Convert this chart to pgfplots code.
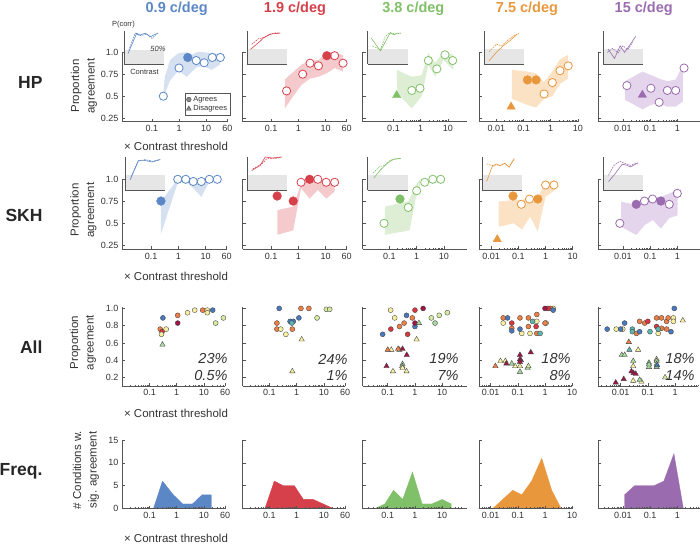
\documentclass[border=0pt]{standalone}
\usepackage{fontspec}
\setmainfont{Liberation Sans}
\usepackage{pgfplots}
\pgfplotsset{compat=1.18}

\definecolor{cB}{HTML}{5B87C6}
\definecolor{cR}{HTML}{D6404A}
\definecolor{cG}{HTML}{80C068}
\definecolor{cO}{HTML}{E9973D}
\definecolor{cP}{HTML}{9A6BAE}
\definecolor{bB}{HTML}{D5E0F1}
\definecolor{bR}{HTML}{F4CACC}
\definecolor{bG}{HTML}{DDEED4}
\definecolor{bO}{HTML}{FBE2C5}
\definecolor{bP}{HTML}{E5D5EC}
\definecolor{axc}{HTML}{555555}
\definecolor{txc}{HTML}{333333}
\definecolor{insg}{HTML}{E6E6E6}
\definecolor{sDR}{HTML}{9E1642}
\definecolor{sR}{HTML}{D8363F}
\definecolor{sO}{HTML}{EE7E45}
\definecolor{sY}{HTML}{F8EFA0}
\definecolor{sYG}{HTML}{D6EBA2}
\definecolor{sG}{HTML}{A6D8A0}
\definecolor{sT}{HTML}{5CB6AE}
\definecolor{sBl}{HTML}{4A78BC}

\pgfplotsset{
  kbase/.style={scale only axis, clip=false, anchor=south west,
    axis x line*=bottom, axis y line*=left, tick pos=left,
    axis line style={draw=axc, line width=0.6pt, -},
    tick style={draw=axc, line width=0.6pt},
    tick align=inside, major tick length=3pt, minor tick length=1.5pt,
    ticklabel style={font=\fontsize{9}{10}\selectfont, text=txc},
    yticklabels={,,,,,,}},
  kmt/.style={minor xtick={0.002,0.003,0.004,0.005,0.006,0.007,0.008,0.009,0.02,0.03,0.04,0.05,0.06,0.07,0.08,0.09,0.2,0.3,0.4,0.5,0.6,0.7,0.8,0.9,2,3,4,5,6,7,8,9,20,30,40,50}},
  krA/.style={kbase, height=69.5pt, ymin=0.21, ymax=1.0, ytick={0.25,0.5,0.75,1}},
  krB/.style={kbase, height=70pt, ymin=0.205, ymax=1.0, ytick={0.25,0.5,0.75,1}},
  krC/.style={kbase, kmt, height=79.3pt, ymin=0.1, ymax=1.02, ytick={0.2,0.4,0.6,0.8,1}},
  krD/.style={kbase, kmt, height=68.5pt, ymin=0, ymax=15, ytick={0,5,10,15}, axis on top},
  kxa/.style={xtick={0.1,1,10,60}, xticklabels={0.1,1,10,60}},
  kxb/.style={xtick={0.1,1,10}, xticklabels={0.1,1,10}},
  kxc/.style={xtick={0.01,0.1,1,10}, xticklabels={0.01,0.1,1,10}},
  kxd/.style={xtick={0.01,0.1,1}, xticklabels={0.01,0.1,1}},
  kop/.style={only marks, mark=*, mark size=4.1pt, mark options={fill=white, draw=#1, line width=0.8pt}, forget plot},
  kfp/.style={only marks, mark=*, mark size=4.4pt, mark options={fill=#1, draw=#1, line width=0.3pt}, forget plot},
  ktp/.style={only marks, mark=triangle*, mark size=4.8pt, mark options={fill=#1, draw=#1, line width=0.3pt}, forget plot},
  kband/.style={fill=#1, draw=none, forget plot},
  ksc/.style={only marks, mark=*, mark size=2.5pt, mark options={fill=#1, draw=black!75, line width=0.35pt}, forget plot},
  kst/.style={only marks, mark=triangle*, mark size=3.1pt, mark options={fill=#1, draw=black!75, line width=0.35pt}, forget plot},
  kfr/.style={fill=#1, draw=#1, line width=0.3pt, forget plot},
  kins/.style={scale only axis, anchor=south west, width=40pt, height=32.5pt,
    xmin=0, xmax=1, ymin=0, ymax=1, axis x line*=bottom, axis y line*=left,
    axis line style={draw=axc, line width=0.6pt, -}, xtick=\empty, ytick=\empty,
    clip=false, axis on top},
  kig/.style={fill=insg, draw=none, forget plot},
  kis/.style={draw=#1, line width=0.6pt, forget plot},
  kid/.style={draw=#1, line width=0.6pt, dash pattern=on 1.6pt off 1pt, forget plot},
}

\begin{document}
\begin{tikzpicture}
\useasboundingbox (0,0) rectangle (700pt,547pt);

% ---------------- titles ----------------
\begin{scope}[every node/.style={font=\fontsize{14.5}{16}\selectfont\bfseries}]
\node[text=cB] at (176.7pt,538.5pt) {0.9 c/deg};
\node[text=cR] at (295pt,538.5pt) {1.9 c/deg};
\node[text=cG] at (413.3pt,538.5pt) {3.8 c/deg};
\node[text=cO] at (527pt,538.5pt) {7.5 c/deg};
\node[text=cP] at (643.7pt,538.5pt) {15 c/deg};
\end{scope}
\begin{scope}[every node/.style={anchor=east, font=\fontsize{17.5}{19}\selectfont\bfseries, text=black!85}]
\node at (46pt,465pt) {HP};
\node at (46pt,332pt) {SKH};
\node at (46pt,200.3pt) {All};
\node at (46pt,76pt) {Freq.};
\end{scope}
\begin{scope}[every node/.style={rotate=90, align=center, font=\fontsize{11.5}{15.5}\selectfont, text=txc}]
\node at (84pt,461pt) {Proportion\\agreement};
\node at (83.5pt,337pt) {Proportion\\agreement};
\node at (83pt,204.3pt) {Proportion\\agreement};
\node at (86pt,77pt) {\# Conditions w.\\sig. agreement};
\end{scope}
\begin{scope}[every node/.style={font=\fontsize{11.5}{13}\selectfont, text=txc}]
\node at (176pt,401pt) {× Contrast threshold};
\node at (176pt,271pt) {× Contrast threshold};
\node at (176pt,134pt) {× Contrast threshold};
\node at (176pt,9pt) {× Contrast threshold};
\end{scope}

% ================= ROW 1 (HP) =================
\begin{semilogxaxis}[krA, kxa, at={(122pt,425.3pt)}, width=105.4pt, xmin=0.00802, xmax=60,
  yticklabels={0.25,0.5,0.75,1.0},
  legend style={at={(1.025,0.41)}, anchor=north east, draw=axc, line width=0.4pt,
    font=\fontsize{7.5}{8}\selectfont, inner sep=0.8pt, row sep=-1.5pt, text=txc},
  legend cell align=left]
\addlegendimage{only marks, mark=*, mark size=2.3pt, mark options={fill=black!45, draw=black!75, line width=0.4pt}}
\addlegendentry{Agrees}
\addlegendimage{only marks, mark=triangle*, mark size=2.8pt, mark options={fill=black!45, draw=black!75, line width=0.4pt}}
\addlegendentry{Disagrees}
\addplot[kband=bB] coordinates {(0.26,0.50)(0.30,0.72)(0.47,0.91)(0.94,0.99)(1.92,1.0)(2.93,0.97)(4.47,1.0)(7.8,1.0)(15.9,0.99)(32,0.98)(32,0.86)(15.9,0.80)(7.8,0.84)(4.47,0.83)(1.92,0.72)(0.94,0.79)(0.47,0.68)(0.26,0.48)};
\addplot[kop=cB] coordinates {(0.265,0.50)(1.0,0.82)(4.3,0.905)(8.4,0.88)(16.7,0.94)(33,0.94)};
\addplot[kfp=cB] coordinates {(2.1,0.94)};
\end{semilogxaxis}

\begin{semilogxaxis}[krA, kxa, at={(242.5pt,425.3pt)}, width=104.2pt, xmin=0.00889, xmax=60]
\addplot[kband=bR] coordinates {(0.32,0.69)(1.33,0.86)(2.7,0.905)(5.5,0.91)(11,1.0)(22,0.99)(43,0.97)(43,0.78)(22,0.82)(11,0.76)(5.5,0.72)(2.7,0.70)(1.33,0.63)(0.65,0.50)(0.32,0.36)};
\addplot[kop=cR] coordinates {(0.37,0.56)(1.45,0.75)(2.7,0.875)(5.5,0.845)(21.6,0.96)(44,0.875)};
\addplot[kfp=cR] coordinates {(11.2,0.96)};
\end{semilogxaxis}

\begin{semilogxaxis}[krA, kxb, at={(362.7pt,425.3pt)}, width=104pt, xmin=0.00738, xmax=49]
\addplot[kband=bG] coordinates {(0.13,0.80)(0.47,0.72)(1.09,0.74)(1.9,0.99)(3.4,0.88)(6.8,1.0)(15.8,0.97)(15.8,0.80)(6.8,0.91)(3.4,0.72)(1.9,0.856)(1.09,0.50)(0.47,0.36)(0.14,0.53)};
\addplot[kop=cG] coordinates {(0.47,0.565)(0.94,0.59)(1.9,0.905)(3.9,0.81)(7.8,0.97)(15,0.905)};
\addplot[ktp=cG] coordinates {(0.13,0.51)};
\end{semilogxaxis}

\begin{semilogxaxis}[krA, kxc, at={(479.3pt,425.3pt)}, width=98.6pt, xmin=0.00237, xmax=10]
\addplot[kband=bO] coordinates {(0.037,0.80)(0.14,0.78)(0.29,0.76)(0.57,0.66)(1.15,0.78)(2.2,0.92)(4.4,0.97)(4.4,0.70)(2.2,0.64)(1.15,0.50)(0.57,0.47)(0.29,0.37)(0.14,0.40)(0.037,0.47)};
\addplot[kop=cO] coordinates {(0.57,0.525)(1.15,0.655)(2.2,0.79)(4.4,0.845)};
\addplot[kfp=cO] coordinates {(0.14,0.685)(0.29,0.685)};
\addplot[ktp=cO] coordinates {(0.035,0.38)};
\end{semilogxaxis}

\begin{semilogxaxis}[krA, kxd, at={(598.3pt,425.3pt)}, width=102pt, xmin=0.00125, xmax=7]
\addplot[kband=bP] coordinates {(0.012,0.67)(0.052,0.78)(0.107,0.74)(0.215,0.70)(0.43,0.67)(0.87,0.69)(1.6,0.85)(1.6,0.44)(0.87,0.38)(0.43,0.38)(0.215,0.42)(0.107,0.40)(0.052,0.35)(0.012,0.46)};
\addplot[kop=cP] coordinates {(0.014,0.62)(0.107,0.59)(0.215,0.43)(0.43,0.565)(0.87,0.565)(1.77,0.82)};
\addplot[ktp=cP] coordinates {(0.052,0.515)};
\end{semilogxaxis}

% insets row 1
\begin{axis}[kins, at={(124pt,483pt)}]
\addplot[kig] coordinates {(0,0)(1,0)(1,0.43)(0,0.43)};
\addplot[kis=cB] coordinates {(0.10,0.32)(0.32,0.95)(0.40,0.89)(0.53,0.95)(0.66,0.84)(0.74,0.89)(0.85,0.95)};
\addplot[kid=cB] coordinates {(0.12,0.42)(0.28,0.95)(0.40,0.87)(0.57,0.92)(0.70,0.79)(0.83,0.94)};
\end{axis}
\begin{axis}[kins, at={(247.3pt,483pt)}]
\addplot[kig] coordinates {(0,0)(1,0)(1,0.45)(0,0.45)};
\addplot[kis=cR] coordinates {(0.08,0.45)(0.32,0.70)(0.40,0.80)(0.57,0.92)(0.82,0.95)};
\addplot[kid=cR] coordinates {(0.11,0.60)(0.27,0.77)(0.44,0.83)(0.65,0.95)(0.82,0.96)};
\end{axis}
\begin{axis}[kins, at={(367.7pt,483pt)}]
\addplot[kig] coordinates {(0,0)(1,0)(1,0.45)(0,0.45)};
\addplot[kis=cG] coordinates {(0.085,0.80)(0.32,0.40)(0.49,0.80)(0.56,0.95)(0.66,0.90)(0.73,0.95)(0.83,0.95)};
\addplot[kid=cG] coordinates {(0.12,0.55)(0.32,0.45)(0.44,0.85)(0.56,0.97)(0.69,0.92)(0.83,0.95)};
\end{axis}
\begin{axis}[kins, at={(484pt,483pt)}]
\addplot[kig] coordinates {(0,0)(1,0)(1,0.45)(0,0.45)};
\addplot[kis=cO] coordinates {(0.13,0.10)(0.31,0.36)(0.49,0.57)(0.66,0.73)(0.83,0.92)};
\addplot[kid=cO] coordinates {(0.13,0.38)(0.31,0.61)(0.44,0.56)(0.58,0.72)(0.75,0.87)(0.87,0.94)};
\end{axis}
\begin{axis}[kins, at={(603.3pt,483pt)}]
\addplot[kig] coordinates {(0,0)(1,0)(1,0.45)(0,0.45)};
\addplot[kis=cP] coordinates {(0.12,0.46)(0.28,0.17)(0.42,0.56)(0.53,0.36)(0.65,0.56)(0.81,0.85)};
\addplot[kid=cP] coordinates {(0.10,0.36)(0.23,0.48)(0.37,0.34)(0.49,0.56)(0.61,0.44)(0.73,0.66)};
\end{axis}
\node[font=\fontsize{7.5}{8}\selectfont, text=txc] at (123.5pt,522pt) {P(corr)};
\node[font=\fontsize{7.5}{8}\selectfont, text=txc] at (144.5pt,475.3pt) {Contrast};
\node[font=\fontsize{7.5}{8}\selectfont\itshape, text=txc] at (158pt,498pt) {50\%};

% ================= ROW 2 (SKH) =================
\begin{semilogxaxis}[krB, kxa, at={(122pt,297.7pt)}, width=104.7pt, xmin=0.00851, xmax=60,
  yticklabels={0.25,0.5,0.75,1.0}]
\addplot[kband=bB] coordinates {(0.23,0.75)(0.95,1.0)(1.87,1.0)(3.56,0.99)(7.0,0.99)(13.8,1.0)(27,1.0)(27,0.98)(13.8,0.97)(7.0,0.80)(3.56,0.90)(1.87,0.98)(0.95,0.96)(0.23,0.38)};
\addplot[kop=cB] coordinates {(0.95,1.0)(1.87,1.0)(3.56,0.975)(7.0,0.975)(13.8,1.0)(27,1.0)};
\addplot[kfp=cB] coordinates {(0.23,0.753)};
\end{semilogxaxis}

\begin{semilogxaxis}[krB, kxa, at={(242.5pt,297.7pt)}, width=104.2pt, xmin=0.00889, xmax=60]
\addplot[kband=bR] coordinates {(0.17,0.65)(0.65,0.69)(1.26,0.95)(2.6,1.01)(5.2,1.0)(10.6,0.97)(21.6,0.97)(21.6,0.86)(10.6,0.78)(5.2,0.88)(2.6,0.78)(1.26,0.90)(0.65,0.42)(0.17,0.37)};
\addplot[kop=cR] coordinates {(1.26,0.966)(5.2,1.0)(10.6,0.966)(21.6,0.966)};
\addplot[kfp=cR] coordinates {(0.167,0.81)(0.65,0.753)(2.6,1.0)};
\end{semilogxaxis}

\begin{semilogxaxis}[krB, kxb, at={(362.7pt,297.7pt)}, width=104pt, xmin=0.01035, xmax=69]
\addplot[kband=bG] coordinates {(0.068,0.69)(0.49,0.75)(1.0,0.95)(1.32,1.0)(1.32,0.90)(1.0,0.84)(0.55,0.42)(0.068,0.37)};
\addplot[kop=cG] coordinates {(0.063,0.5)(0.49,0.68)(1.0,0.87)(1.97,0.966)(3.9,1.0)(7.6,1.0)};
\addplot[kfp=cG] coordinates {(0.243,0.776)};
\end{semilogxaxis}

\begin{semilogxaxis}[krB, kxc, at={(479.3pt,297.7pt)}, width=93.4pt, xmin=0.00368, xmax=10]
\addplot[kband=bO] coordinates {(0.019,0.746)(0.067,0.765)(0.136,0.765)(0.273,0.80)(0.52,0.80)(1.0,0.954)(2.2,0.992)(2.2,0.878)(1.0,0.80)(0.52,0.405)(0.273,0.575)(0.136,0.43)(0.067,0.50)(0.019,0.46)};
\addplot[kop=cO] coordinates {(0.129,0.716)(0.257,0.776)(1.0,0.935)(2.04,0.935)};
\addplot[kfp=cO] coordinates {(0.064,0.81)(0.52,0.776)};
\addplot[ktp=cO] coordinates {(0.0168,0.318)};
\end{semilogxaxis}

\begin{semilogxaxis}[krB, kxd, at={(598.3pt,297.7pt)}, width=102pt, xmin=0.00125, xmax=7]
\addplot[kband=bP] coordinates {(0.0087,0.746)(0.031,0.71)(0.063,0.765)(0.125,0.80)(0.25,0.80)(0.51,0.84)(1.02,0.878)(1.02,0.59)(0.51,0.56)(0.25,0.44)(0.125,0.537)(0.063,0.48)(0.031,0.367)(0.0087,0.46)};
\addplot[kop=cP] coordinates {(0.0077,0.5)(0.062,0.753)(0.123,0.776)(0.506,0.716)(1.0,0.84)};
\addplot[kfp=cP] coordinates {(0.031,0.716)(0.249,0.753)};
\end{semilogxaxis}

% insets row 2
\begin{axis}[kins, at={(125pt,357pt)}, height=33pt]
\addplot[kig] coordinates {(0,0)(1,0)(1,0.45)(0,0.45)};
\addplot[kis=cB] coordinates {(0.13,0.31)(0.34,0.90)(0.47,0.90)(0.68,0.85)(0.88,0.92)};
\addplot[kid=cB] coordinates {(0.15,0.40)(0.33,0.88)(0.5,0.92)(0.7,0.87)(0.88,0.93)};
\end{axis}
\begin{axis}[kins, at={(247.3pt,357pt)}, height=33pt]
\addplot[kig] coordinates {(0,0)(1,0)(1,0.45)(0,0.45)};
\addplot[kis=cR] coordinates {(0.11,0.59)(0.32,0.74)(0.45,1.0)(0.62,0.97)(0.87,1.0)};
\addplot[kid=cR] coordinates {(0.14,0.64)(0.36,0.79)(0.49,0.95)(0.66,0.95)(0.84,0.99)};
\end{axis}
\begin{axis}[kins, at={(367.7pt,357pt)}, height=33pt]
\addplot[kig] coordinates {(0,0)(1,0)(1,0.45)(0,0.45)};
\addplot[kis=cG] coordinates {(0.15,0.36)(0.32,0.61)(0.49,0.81)(0.66,0.94)(0.83,0.96)};
\addplot[kid=cG] coordinates {(0.13,0.51)(0.30,0.71)(0.42,0.74)(0.57,0.91)(0.83,0.96)};
\end{axis}
\begin{axis}[kins, at={(482.3pt,357pt)}, height=33pt]
\addplot[kig] coordinates {(0,0)(1,0)(1,0.45)(0,0.45)};
\addplot[kis=cO] coordinates {(0.11,0.26)(0.24,0.69)(0.35,0.79)(0.45,0.74)(0.56,0.81)(0.67,0.69)(0.80,0.95)};
\addplot[kid=cO] coordinates {(0.11,0.79)(0.24,0.74)(0.35,0.76)(0.44,0.74)(0.55,0.81)(0.67,0.71)(0.8,0.95)};
\end{axis}
\begin{axis}[kins, at={(603.3pt,357pt)}, height=33pt]
\addplot[kig] coordinates {(0,0)(1,0)(1,0.45)(0,0.45)};
\addplot[kis=cP] coordinates {(0.13,0.25)(0.30,0.50)(0.47,0.78)(0.59,0.75)(0.68,0.70)(0.86,0.82)};
\addplot[kid=cP] coordinates {(0.13,0.45)(0.27,0.75)(0.41,0.87)(0.55,0.80)(0.68,0.75)(0.86,0.82)};
\end{axis}

% ================= ROW 3 (All) =================
\begin{semilogxaxis}[krC, kxa, at={(122pt,161pt)}, width=103.1pt, xmin=0.00975, xmax=60,
  yticklabels={0.2,0.4,0.6,0.8,1.0}]
\addplot[ksc=sBl] coordinates {(0.31,0.89)(21,0.98)};
\addplot[ksc=sO] coordinates {(0.247,0.76)(1.09,0.92)(9.0,0.98)};
\addplot[ksc=sR] coordinates {(0.29,0.73)};
\addplot[ksc=sDR] coordinates {(1.09,0.83)};
\addplot[ksc=sY] coordinates {(0.275,0.70)(0.41,0.76)(2.5,0.95)(4.6,0.98)(13.3,0.98)(13.3,0.95)};
\addplot[ksc=sYG] coordinates {(27,0.83)(52,0.89)};
\addplot[kst=sG] coordinates {(0.30,0.58)};
\end{semilogxaxis}

\begin{semilogxaxis}[krC, kxa, at={(242.5pt,161pt)}, width=102.6pt, xmin=0.0102, xmax=60]
\addplot[ksc=sO] coordinates {(1.43,1.0)(2.8,1.0)(0.187,0.83)(0.187,0.76)(0.69,0.76)};
\addplot[ksc=sY] coordinates {(0.26,0.76)(0.40,0.70)};
\addplot[ksc=sYG] coordinates {(12.3,0.99)(16.3,0.99)(5.6,0.89)};
\addplot[ksc=sBl] coordinates {(0.227,1.0)(1.2,0.89)(0.57,0.85)(0.75,0.85)};
\addplot[ksc=sT] coordinates {(0.66,0.83)};
\addplot[kst=sY] coordinates {(1.52,0.64)(0.69,0.27)};
\end{semilogxaxis}

\begin{semilogxaxis}[krC, kxb, at={(362.7pt,161pt)}, width=104pt, xmin=0.012, xmax=80]
\addplot[ksc=sY] coordinates {(0.128,0.98)(0.18,0.89)};
\addplot[ksc=sO] coordinates {(0.8,0.89)(0.27,0.79)(0.4,0.83)};
\addplot[ksc=sR] coordinates {(1.0,0.98)(0.13,0.76)(0.54,0.70)};
\addplot[ksc=sBl] coordinates {(0.49,0.92)(1.0,0.79)(0.065,0.70)};
\addplot[ksc=sDR] coordinates {(2.0,1.0)(1.0,0.83)};
\addplot[ksc=sYG] coordinates {(4.0,0.89)(7.8,0.92)(15.5,0.95)};
\addplot[ksc=sG] coordinates {(5.5,0.83)};
\addplot[kst=sG] coordinates {(1.4,0.83)(0.35,0.355)(0.34,0.33)};
\addplot[kst=sY] coordinates {(1.15,0.64)(0.135,0.52)(0.27,0.52)(0.156,0.27)(0.49,0.27)(0.35,0.31)};
\addplot[kst=sO] coordinates {(0.1,0.52)(0.24,0.53)};
\addplot[kst=sDR] coordinates {(0.35,0.53)(0.5,0.46)(0.09,0.33)};
\end{semilogxaxis}

\begin{semilogxaxis}[krC, kxc, at={(479.3pt,161pt)}, width=92.9pt, xmin=0.00384, xmax=10]
\addplot[ksc=sY] coordinates {(2.0,1.0)(0.029,0.83)(0.5,0.85)(0.14,0.71)(0.28,0.71)(1.1,0.83)};
\addplot[ksc=sO] coordinates {(1.6,1.0)(0.029,0.89)(0.06,0.77)(0.12,0.89)(0.245,0.89)(0.5,0.93)(0.245,0.79)(0.5,0.71)(1.0,0.83)};
\addplot[ksc=sR] coordinates {(1.3,1.0)(0.06,0.83)(0.47,0.79)};
\addplot[ksc=sDR] coordinates {(1.0,1.0)};
\addplot[ksc=sBl] coordinates {(2.0,0.98)(0.042,0.89)(0.06,0.74)(0.12,0.76)};
\addplot[ksc=sT] coordinates {(0.35,0.85)(0.66,0.71)};
\addplot[kst=sO] coordinates {(0.015,0.33)};
\addplot[kst=sY] coordinates {(0.023,0.39)(0.035,0.39)(0.08,0.33)(0.12,0.33)};
\addplot[kst=sG] coordinates {(0.06,0.36)(0.12,0.265)(0.23,0.31)};
\addplot[kst=sYG] coordinates {(0.245,0.33)};
\addplot[kst=sBl] coordinates {(0.13,0.40)};
\addplot[kst=sDR] coordinates {(0.038,0.36)(0.12,0.46)(0.12,0.41)(0.12,0.38)(0.3,0.49)};
\end{semilogxaxis}

\begin{semilogxaxis}[krC, kxd, at={(598.3pt,161pt)}, width=99.7pt, xmin=0.00151, xmax=7]
\addplot[ksc=sO] coordinates {(0.05,0.85)(0.077,0.83)(0.21,0.89)(0.32,0.89)(0.49,0.85)(0.56,0.89)(0.038,0.71)(0.32,0.77)(0.49,0.76)};
\addplot[ksc=sY] coordinates {(0.0069,0.76)(0.012,0.76)(0.87,0.89)(0.87,0.85)(0.24,0.71)};
\addplot[ksc=sR] coordinates {(0.10,0.85)(0.21,0.79)};
\addplot[ksc=sT] coordinates {(0.027,0.76)(0.027,0.73)(0.12,0.73)(0.24,0.76)};
\addplot[ksc=sBl] coordinates {(0.94,1.0)(0.0032,0.76)(0.01,0.76)(0.014,0.83)(0.05,0.73)(0.71,0.73)};
\addplot[kst=sY] coordinates {(1.93,0.86)(0.044,0.52)(0.029,0.33)(0.058,0.15)(0.029,0.16)(0.21,0.41)};
\addplot[kst=sO] coordinates {(0.02,0.61)};
\addplot[kst=sT] coordinates {(0.021,0.52)};
\addplot[kst=sG] coordinates {(0.011,0.46)(0.014,0.46)(0.029,0.39)(0.05,0.17)(0.21,0.39)(0.21,0.355)(0.21,0.32)(0.11,0.37)(0.11,0.32)(0.11,0.35)};
\addplot[kst=sBl] coordinates {(0.22,0.34)};
\addplot[kst=sYG] coordinates {(0.43,0.2)};
\addplot[kst=sDR] coordinates {(0.025,0.27)(0.03,0.25)(0.036,0.24)(0.0066,0.14)(0.013,0.18)};
\end{semilogxaxis}

\begin{scope}[every node/.style={anchor=east, font=\fontsize{14.5}{16}\selectfont\itshape, text=txc}]
\node at (231pt,188pt) {23\%};
\node at (231pt,171pt) {0.5\%};
\node at (351pt,188pt) {24\%};
\node at (351pt,171pt) {1\%};
\node at (462pt,188pt) {19\%};
\node at (462pt,171pt) {7\%};
\node at (574pt,188pt) {18\%};
\node at (574pt,171pt) {8\%};
\node at (698pt,188pt) {18\%};
\node at (698pt,171pt) {14\%};
\end{scope}

% ================= ROW 4 (Freq.) =================
\begin{semilogxaxis}[krD, kxa, at={(122pt,38.5pt)}, width=103.1pt, xmin=0.00975, xmax=60,
  yticklabels={0,5,10,15}]
\addplot[kfr=cB] coordinates {(0.14,0)(0.30,6)(0.75,3)(1.65,1)(3.8,1)(8.5,3)(18.7,3)(18.7,0)};
\end{semilogxaxis}
\begin{semilogxaxis}[krD, kxa, at={(242.5pt,38.5pt)}, width=102.6pt, xmin=0.0102, xmax=60]
\addplot[kfr=cR] coordinates {(0.0102,0)(0.068,0)(0.15,6)(0.32,5)(0.82,5)(1.75,2)(4.0,2)(22,0)};
\end{semilogxaxis}
\begin{semilogxaxis}[krD, kxb, at={(362.7pt,38.5pt)}, width=104pt, xmin=0.012, xmax=80]
\addplot[kfr=cG] coordinates {(0.012,0)(0.034,0)(0.078,1)(0.163,4)(0.355,2)(0.81,8)(1.84,1)(4.2,1)(10,2)(21.6,1)(21.6,0)};
\end{semilogxaxis}
\begin{semilogxaxis}[krD, kxc, at={(479.3pt,38.5pt)}, width=92.9pt, xmin=0.00384, xmax=10]
\addplot[kfr=cO] coordinates {(0.012,0)(0.065,4)(0.14,3)(0.32,6)(0.76,11)(1.76,4)(3.9,0)};
\end{semilogxaxis}
\begin{semilogxaxis}[krD, kxd, at={(598.3pt,38.5pt)}, width=102pt, xmin=0.00125, xmax=7]
\addplot[kfr=cP] coordinates {(0.0115,0)(0.0115,3)(0.027,5)(0.14,5)(0.32,6)(0.75,12)(1.67,0)};
\end{semilogxaxis}

\end{tikzpicture}
\end{document}
